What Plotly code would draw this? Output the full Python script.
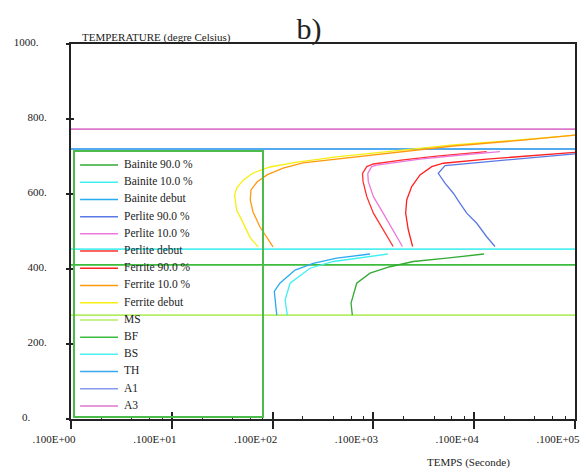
import plotly.graph_objects as go

# ---------------- data (time in s, temperature in degC) ----------------
t_ferrite_debut = [7.2, 6.0, 5.1, 4.4, 4.2, 4.4, 5.1, 6.4, 9.4, 17.5, 43, 136, 620, 2850, 10000]
T_ferrite_debut = [459, 483, 523, 557, 597, 616, 637, 656, 672, 685, 699, 712, 731, 744, 757]

t_ferrite_10 = [10.1, 8.8, 7.5, 6.4, 6.0, 6.1, 7.0, 8.8, 12.7, 20, 43, 136, 620, 2850, 10000]
T_ferrite_10 = [459, 483, 512, 552, 584, 611, 632, 651, 669, 683, 693, 707, 728, 743, 757]

t_ferrite_90 = [245, 222, 209, 214, 240, 290, 379, 494, 1330, 4170, 10000]
T_ferrite_90 = [460, 504, 549, 584, 620, 651, 673, 682, 693, 704, 711]

t_perlite_debut = [157, 125, 100, 86, 79, 78, 86, 100, 198, 425, 1330]
T_perlite_debut = [460, 504, 549, 593, 633, 655, 673, 680, 691, 701, 713]

t_perlite_10 = [194, 157, 125, 100, 89, 88, 96, 108, 290, 620, 1800]
T_perlite_10 = [460, 504, 549, 593, 633, 655, 673, 677, 693, 702, 713]

t_perlite_90 = [1607, 1330, 1060, 843, 723, 621, 513, 440, 513, 1330, 4170, 10000]
T_perlite_90 = [460, 486, 522, 549, 575, 602, 629, 655, 676, 686, 698, 707]

t_bainite_debut = [11.0, 10.4, 11.8, 16.7, 25.3, 43.2, 92.5]
T_bainite_debut = [277, 340, 362, 397, 415, 429, 440]

t_bainite_10 = [14.0, 13.3, 14.9, 23.5, 40.0, 73.6, 139]
T_bainite_10 = [277, 317, 362, 402, 420, 430, 440]

t_bainite_90 = [61.8, 60.0, 68.3, 92.5, 146, 249, 533, 1250]
T_bainite_90 = [277, 309, 362, 389, 406, 420, 429, 440]

# horizontal reference temperatures
T_MS = 277
T_BF = 411
T_BS = 453
T_TH = 720
T_A1 = 720
T_A3 = 773

legend_names = ["Bainite 90.0 %", "Bainite 10.0 %", "Bainite debut",
                "Perlite 90.0 %", "Perlite 10.0 %", "Perlite debut",
                "Ferrite 90.0 %", "Ferrite 10.0 %", "Ferrite debut",
                "MS", "BF", "BS", "TH", "A1", "A3"]

x_tickvals = [0.1, 1, 10, 100, 1000, 10000]
x_ticktext = [".100E+00", ".100E+01", ".100E+02", ".100E+03", ".100E+04", ".100E+05"]
y_tickvals = [0, 200, 400, 600, 800, 1000]
y_ticktext = ["0.\u00a0\u00a0\u00a0\u00a0\u00a0\u00a0", "200.", "400.", "600.", "800.", "1000.\u00a0\u00a0\u00a0"]

# ---------------- styles ----------------
colors = {
    "Bainite 90.0 %": "#33aa33",
    "Bainite 10.0 %": "#40f0f0",
    "Bainite debut": "#29aaf0",
    "Perlite 90.0 %": "#5a78e6",
    "Perlite 10.0 %": "#ee77dd",
    "Perlite debut": "#ff3030",
    "Ferrite 90.0 %": "#ff2020",
    "Ferrite 10.0 %": "#ff9a10",
    "Ferrite debut": "#f5f010",
    "MS": "#b4ee66",
    "BF": "#3cbb3c",
    "BS": "#50f0f0",
    "TH": "#3aa8ee",
    "A1": "#8898ee",
    "A3": "#dd77cc",
}
FONT = "Liberation Serif"
X_RANGE_T = [0.1, 10000]

fig = go.Figure()

curves = [
    ("Ferrite debut", t_ferrite_debut, T_ferrite_debut),
    ("Ferrite 10.0 %", t_ferrite_10, T_ferrite_10),
    ("Ferrite 90.0 %", t_ferrite_90, T_ferrite_90),
    ("Perlite debut", t_perlite_debut, T_perlite_debut),
    ("Perlite 10.0 %", t_perlite_10, T_perlite_10),
    ("Perlite 90.0 %", t_perlite_90, T_perlite_90),
    ("Bainite debut", t_bainite_debut, T_bainite_debut),
    ("Bainite 10.0 %", t_bainite_10, T_bainite_10),
    ("Bainite 90.0 %", t_bainite_90, T_bainite_90),
]
hlines = [("MS", T_MS), ("BF", T_BF), ("BS", T_BS), ("A1", T_A1), ("TH", T_TH), ("A3", T_A3)]

for name, T in hlines:
    fig.add_trace(go.Scatter(x=X_RANGE_T, y=[T, T], mode="lines", name=name,
                             line=dict(color=colors[name], width=1.6),
                             showlegend=False, hoverinfo="skip"))
for name, t, T in curves:
    fig.add_trace(go.Scatter(x=t, y=T, mode="lines", name=name,
                             line=dict(color=colors[name], width=1.3),
                             showlegend=False))

# dummy trace so overlay axes (inner tick marks) get drawn
fig.add_trace(go.Scatter(x=[None], y=[None], xaxis="x3", yaxis="y3",
                         showlegend=False, hoverinfo="skip"))

# custom compact legend drawn in its own small subplot
LEG_SAMPLE_X = [0.027, 0.23]
LEG_TEXT_X = 0.262
for i, name in enumerate(legend_names):
    fig.add_trace(go.Scatter(x=LEG_SAMPLE_X, y=[i, i], mode="lines",
                             xaxis="x2", yaxis="y2",
                             line=dict(color=colors[name], width=1.5),
                             showlegend=False, hoverinfo="skip"))
fig.add_trace(go.Scatter(x=[LEG_TEXT_X] * len(legend_names), y=list(range(len(legend_names))),
                         text=legend_names, mode="text", textposition="middle right",
                         textfont=dict(family=FONT, size=11.5, color="#222"),
                         xaxis="x2", yaxis="y2", showlegend=False, hoverinfo="skip"))

minor_vals = [m * d for d in [0.1, 1, 10, 100, 1000] for m in (2, 4, 6, 8)]

fig.update_layout(
    width=581, height=470,
    margin=dict(l=71, r=6, t=44, b=51),
    paper_bgcolor="white", plot_bgcolor="rgba(0,0,0,0)",
    font=dict(family=FONT, size=11, color="#222"),
    title=dict(text="b)", x=0.472, xref="paper", xanchor="center",
               y=1 - 28 / 470, yref="container", yanchor="middle",
               font=dict(family=FONT, size=30, color="#222")),
    xaxis=dict(type="log", range=[-1, 4], tickmode="array",
               tickvals=x_tickvals, ticktext=x_ticktext,
               ticks="outside", ticklen=8, tickwidth=1.5, tickcolor="#222",
               showline=True, mirror=True, linecolor="#222", linewidth=1.5,
               showgrid=False, zeroline=False, ticklabelshift=-17, automargin=False,
               ticklabelstandoff=1,
               tickfont=dict(family=FONT, size=11, color="#222"),
               minor=dict(tickmode="array", tickvals=minor_vals, ticks="inside",
                          ticklen=3, tickwidth=1, tickcolor="#222", showgrid=False)),
    yaxis=dict(range=[0, 1000], tickmode="array",
               tickvals=y_tickvals, ticktext=y_ticktext,
               ticks="outside", ticklen=3, tickwidth=1.5, tickcolor="#222",
               showline=True, mirror=True, linecolor="#222", linewidth=2,
               showgrid=False, zeroline=False, ticklabelstandoff=17,
               ticklabelshift=-2, automargin=False,
               tickfont=dict(family=FONT, size=11, color="#222")),
    xaxis3=dict(type="log", range=[-1, 4], overlaying="x", anchor="y3", side="bottom",
                tickmode="array", tickvals=x_tickvals[1:], ticks="inside", ticklen=7,
                tickwidth=1.5, tickcolor="#222", showticklabels=False, automargin=False,
                showline=False, showgrid=False, zeroline=False),
    yaxis3=dict(range=[0, 1000], overlaying="y", anchor="x3", side="left",
                tickmode="array", tickvals=y_tickvals[1:-1], ticks="inside", ticklen=3,
                tickwidth=1.5, tickcolor="#222", showticklabels=False, automargin=False,
                showline=False, showgrid=False, zeroline=False),
    xaxis2=dict(domain=[0.008, 0.379], range=[0, 1], anchor="y2",
                showline=True, mirror=True, linecolor="#4cbb4c", linewidth=2,
                ticks="", showticklabels=False, showgrid=False, zeroline=False,
                fixedrange=True, automargin=False),
    yaxis2=dict(domain=[0.008, 0.712], range=[14.58, -0.755], anchor="x2",
                showline=True, mirror=True, linecolor="#4cbb4c", linewidth=2,
                ticks="", showticklabels=False, showgrid=False, zeroline=False,
                fixedrange=True, automargin=False),
    annotations=[
        dict(text="TEMPERATURE (degre Celsius)", xref="paper", yref="paper",
             x=0.018, y=1 + 7 / 375, xanchor="left", yanchor="middle",
             showarrow=False, font=dict(family=FONT, size=11, color="#222")),
        dict(text="TEMPS (Seconde)", xref="paper", yref="paper",
             x=0.788, y=-43 / 375, xanchor="center", yanchor="middle",
             showarrow=False, font=dict(family=FONT, size=11, color="#222")),
    ],
    showlegend=False,
)

fig.write_html("out.html", config={"displayModeBar": False},
               post_script="document.body.style.margin='0';document.body.style.padding='0';")
